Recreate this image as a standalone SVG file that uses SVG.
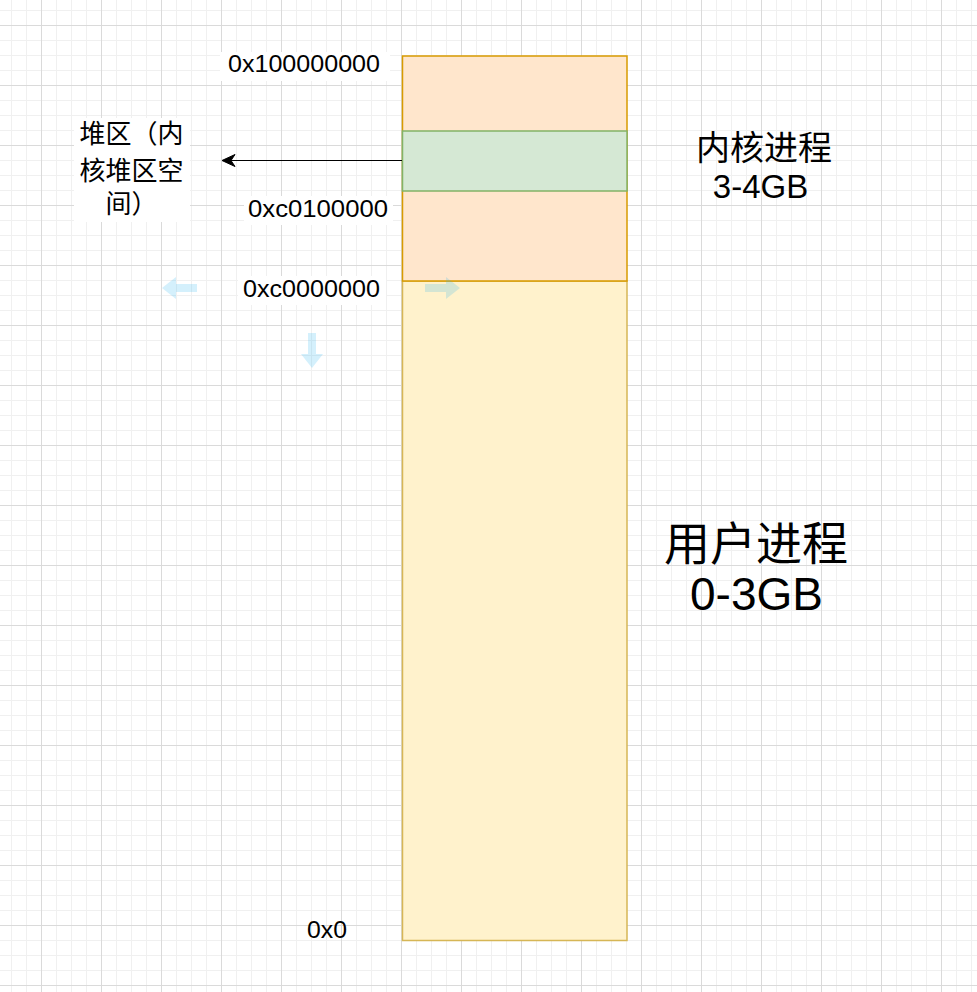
<svg xmlns="http://www.w3.org/2000/svg" width="977" height="992" viewBox="0 0 977 992">
<defs>
<pattern id="grid" x="41" y="25" width="60" height="60" patternUnits="userSpaceOnUse">
<path d="M15.5 0V60M30.5 0V60M45.5 0V60M0 15.5H60M0 30.5H60M0 45.5H60" stroke="#f0f0f0" stroke-width="1" fill="none"/>
<path d="M0.5 0V60M0 0.5H60" stroke="#dadada" stroke-width="1" fill="none"/>
</pattern>
<g id="hint-arrow">
<path d="M0 -4H21V-11L35 0L21 11V4H0Z" fill="#29b6f2" fill-opacity="0.2"/>
</g>
</defs>
<style>
.t{font-family:"Liberation Sans","Noto Sans CJK SC",sans-serif;fill:#000}
.addr{font-size:24px}
.bg{fill:#ffffff}
</style>
<rect x="0" y="0" width="977" height="992" fill="#ffffff"/>
<rect x="0" y="0" width="977" height="992" fill="url(#grid)"/>

<g id="user-space">
<rect x="402.5" y="281" width="224.5" height="659.5" fill="#fff2cc" stroke="#d6b656" stroke-width="1.5"/>
</g>
<g id="kernel-space">
<rect x="402.5" y="56" width="224.5" height="225" fill="#ffe6cc" stroke="#d79b00" stroke-width="1.5"/>
</g>
<g id="kernel-heap">
<rect x="402.5" y="131" width="224.5" height="60" fill="#d5e8d4" stroke="#82b366" stroke-width="1.5"/>
</g>

<g id="connectors">
<line x1="402" y1="160.5" x2="230" y2="160.5" stroke="#000" stroke-width="1.2"/>
<path d="M222 160.5L235 154.5L231 160.5L235 166.5Z" fill="#000" stroke="#000" stroke-width="1"/>
</g>

<g id="hint-arrows">
<use href="#hint-arrow" transform="translate(197,288) rotate(180)"/>
<use href="#hint-arrow" transform="translate(425,288)"/>
<use href="#hint-arrow" transform="translate(312,333) rotate(90)"/>
</g>

<g id="label-addr-top">
<rect class="bg" x="220" y="52" width="170" height="29"/>
<text class="t addr" x="228" y="72" textLength="152" lengthAdjust="spacingAndGlyphs">0x100000000</text>
</g>
<g id="label-addr-c01">
<rect class="bg" x="244" y="196" width="149" height="29" fill="#fafafa"/>
<text class="t addr" x="248" y="217" textLength="140" lengthAdjust="spacingAndGlyphs">0xc0100000</text>
</g>
<g id="label-addr-c00">
<rect class="bg" x="238" y="276" width="148" height="29"/>
<text class="t addr" x="243" y="297" textLength="137" lengthAdjust="spacingAndGlyphs">0xc0000000</text>
</g>
<g id="label-addr-0">
<text class="t addr" x="307" y="938" textLength="40" lengthAdjust="spacingAndGlyphs">0x0</text>
</g>

<g id="label-heap">
<rect class="bg" x="74" y="118" width="116" height="104"/>
<text class="t" font-size="26" text-anchor="middle"><tspan x="131.5" y="143">堆区（内</tspan><tspan x="131.5" y="180">核堆区空</tspan><tspan x="131.5" y="213">间）</tspan></text>
</g>

<g id="label-kernel">
<text class="t" font-size="34" text-anchor="middle" x="764" y="160">内核进程</text>
<text class="t" font-size="33" text-anchor="middle" x="760.5" y="198">3-4GB</text>
</g>

<g id="label-user">
<text class="t" font-size="46" text-anchor="middle" x="756" y="560">用户进程</text>
<text class="t" font-size="46" text-anchor="middle" x="756.5" y="610">0-3GB</text>
</g>
</svg>
